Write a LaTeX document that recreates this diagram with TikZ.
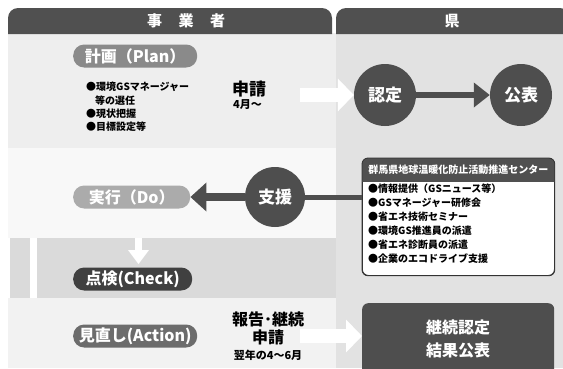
\documentclass[tikz,border=0pt]{standalone}
\usepackage{fontspec}
\setmainfont{Noto Sans CJK JP}
\usetikzlibrary{arrows.meta}
\definecolor{hdr}{HTML}{505050}
\definecolor{colR}{HTML}{E2E2E2}
\definecolor{bgTop}{HTML}{EEEEEE}
\definecolor{bgMid}{HTML}{F8F8F8}
\definecolor{bgBand}{HTML}{DADADA}
\definecolor{bgLow}{HTML}{F2F2F2}
\definecolor{pPlan}{HTML}{8A8A8A}
\definecolor{pDo}{HTML}{ABABAB}
\definecolor{pCheck}{HTML}{404040}
\definecolor{pAct}{HTML}{6C6C6C}
\definecolor{circ}{HTML}{4E4E4E}
\definecolor{boxline}{HTML}{333333}
\begin{document}
\begin{tikzpicture}[x=1pt,y=-1pt,
  pill/.style={rounded corners=11pt, minimum height=23pt, text=white, font=\fontsize{16}{16}\selectfont\bfseries, inner sep=0pt},
  disk/.style={circle, fill=circ, minimum size=62pt, text=white, font=\fontsize{17}{17}\selectfont\bfseries, inner sep=0pt},
  bul/.style={align=left, font=\fontsize{10}{13.3}\selectfont\bfseries, inner sep=0pt, anchor=north west},
  whitearrow/.style={white, line width=14pt, -{Triangle[length=16pt,width=32pt]}},
  darkarrow/.style={circ, line width=6pt, -{Triangle[length=16pt,width=24pt]}}
]
\useasboundingbox (0,0) rectangle (563,368);
\fill[white] (0,0) rectangle (563,368);
% backgrounds
\fill[bgTop] (8,33) rectangle (336,148);
\fill[bgMid] (8,148) rectangle (336,238);
\fill[bgBand] (10,238) rectangle (336,298);
\fill[bgLow] (8,298) rectangle (336,368);
\fill[colR] (336,33) rectangle (563,368);
% loop strips in band
\fill[white] (30,238) rectangle (37,298);
\fill[white] (135,238) rectangle (142,250);
\fill[white] (128,250) -- (149,250) -- (138.5,264) -- cycle;
% headers
\fill[hdr, rounded corners=10pt] (8,34) -- (8,8) -- (332,8) -- (332,34);
\fill[hdr] (8,24) rectangle (332,34);
\fill[hdr, rounded corners=10pt] (336,34) -- (336,8) -- (570,8) -- (570,34);
\fill[hdr] (336,24) rectangle (563,34);
\node[text=white, font=\fontsize{15}{15}\selectfont\bfseries] (h1) at (186,21) {事\hspace{1.1em}業\hspace{1.1em}者};
\node[text=white, font=\fontsize{15}{15}\selectfont\bfseries] (h2) at (452,21) {県};
% pills
\node[pill, fill=pPlan, minimum width=124pt, anchor=west] (plan) at (73,56) {計画（Plan）};
\node[pill, fill=pDo, minimum width=117pt, anchor=west] (do) at (73,197) {実行（Do）};
\node[pill, fill=pCheck, minimum width=119pt, anchor=west] (check) at (73,279) {点検(Check)};
\node[pill, fill=pAct, minimum width=124pt, anchor=west] (act) at (73,336) {見直し(Action)};
% plan bullets
\node[bul] (pb) at (86,82) {●環境GSマネージャー\\\hspace{0.9em}等の選任\\●現状把握\\●目標設定等};
\node[font=\fontsize{17}{17}\selectfont\bfseries, anchor=west, inner sep=0pt] (shinsei) at (232,89) {申請};
\node[font=\fontsize{11}{11}\selectfont\bfseries, anchor=west, inner sep=0pt] (apr) at (233,105) {4月～};
% circles
\node[disk] (nintei) at (385,95) {認定};
\node[disk] (kohyo) at (521,95) {公表};
\coordinate (wa1) at (300,95);
\draw[whitearrow] (wa1) -- (nintei.west);
\draw[darkarrow] (nintei.east) -- (kohyo.west);
% center box
\node[draw=boxline, line width=0.8pt, fill=white, rounded corners=6pt, minimum width=192pt, minimum height=117pt, anchor=north west, inner sep=0pt] (ctr) at (362,158) {};
\begin{scope}
\clip[rounded corners=6pt] (ctr.north west) rectangle (ctr.south east);
\fill[hdr] (ctr.north west) rectangle ([yshift=-24pt]ctr.north east);
\end{scope}
\draw[boxline, line width=0.8pt, rounded corners=6pt] (ctr.north west) rectangle (ctr.south east);
\node[text=white, font=\fontsize{10}{10}\selectfont\bfseries, inner sep=0pt] (ctrh) at ([yshift=-12pt]ctr.north) {群馬県地球温暖化防止活動推進センター};
\node[bul, font=\fontsize{10}{13.9}\selectfont\bfseries] (ctri) at (368,184) {●情報提供（GSニュース等）\\●GSマネージャー研修会\\●省エネ技術セミナー\\●環境GS推進員の派遣\\●省エネ診断員の派遣\\●企業のエコドライブ支援};
% support
\node[disk, minimum size=60pt] (shien) at (275,197) {支援};
\draw[circ, line width=5pt] (shien.east) -- (shien -| ctr.west);
\draw[darkarrow, line width=8pt, -{Triangle[length=16pt,width=28pt]}] (shien.west) -- (do.east);
% bottom
\node[align=center, font=\fontsize{16}{18}\selectfont\bfseries, inner sep=0pt] (hokoku) at (268,328) {報告･継続\\申請};
\node[font=\fontsize{11}{11}\selectfont\bfseries, inner sep=0pt] (yoku) at (268,355) {翌年の4～6月};
\node[fill=circ, rounded corners=6pt, minimum width=192pt, minimum height=72pt, anchor=north west, inner sep=0pt, text=white, align=center, font=\fontsize{16}{23}\selectfont\bfseries] (keizoku) at (362,303) {継続認定\\結果公表};
\coordinate (wa2) at (300,336);
\draw[whitearrow] (wa2) -- (keizoku.west |- wa2);
\end{tikzpicture}
\end{document}
